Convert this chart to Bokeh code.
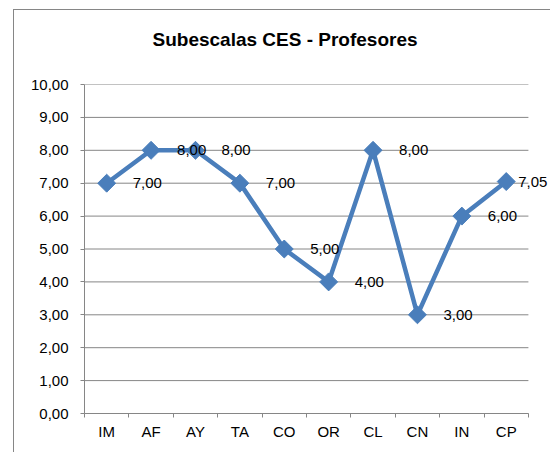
import math
from bokeh.plotting import figure
from bokeh.models import (Range1d, FixedTicker, CustomJSTickFormatter, ColumnDataSource, Title)
from bokeh.core.properties import value
from bokeh.embed import file_html
from bokeh.resources import INLINE

# ---- data ----
title = "Subescalas CES - Profesores"
categories = ["IM", "AF", "AY", "TA", "CO", "OR", "CL", "CN", "IN", "CP"]
values = [7.00, 8.00, 8.00, 7.00, 5.00, 4.00, 8.00, 3.00, 6.00, 7.05]
y_ticks = [0, 1, 2, 3, 4, 5, 6, 7, 8, 9, 10]

FONT = "Liberation Sans"
BLUE = "#4A7EBB"
GRAY = "#868686"

n = len(categories)
xpos = [i + 0.5 for i in range(n)]
labels = [f"{v:.2f}".replace(".", ",") for v in values]
label_dx = [26] * (n - 1) + [12]

p = figure(width=537, height=443, output_backend="svg", toolbar_location=None,
           title=None,
           x_range=Range1d(0, n * 1.052), y_range=Range1d(0, 10),
           min_border_left=70, min_border_right=0, min_border_top=74,
           min_border_bottom=40)
p.margin = (9, 0, 0, 13)
p.styles = {"border-left": f"1px solid {GRAY}", "border-top": f"1px solid {GRAY}"}
p.outline_line_color = None
p.background_fill_color = "white"
p.border_fill_color = "white"

# spacer between plot area and title, then the title itself
p.add_layout(Title(text=" ", text_font_size="1px", standoff=32), "above")
p.add_layout(Title(text=title, align="left", offset=68, standoff=0,
                   text_font=FONT, text_font_style="bold", text_font_size="19px",
                   text_color="black"), "above")

# grid lines (drawn only over the category span)
p.xgrid.visible = False
p.ygrid.visible = False
p.segment(x0=[0] * len(y_ticks), x1=[n] * len(y_ticks), y0=y_ticks, y1=y_ticks,
          line_color=GRAY, line_width=1)

# y axis
p.yaxis.ticker = FixedTicker(ticks=y_ticks)
p.yaxis.formatter = CustomJSTickFormatter(code="return tick.toFixed(2).replace('.', ',');")
p.yaxis.axis_line_color = GRAY
p.yaxis.major_tick_line_color = GRAY
p.yaxis.major_tick_out = 4
p.yaxis.major_tick_in = 0
p.yaxis.minor_tick_line_color = None
p.yaxis.major_label_standoff = 12
p.yaxis.major_label_text_font = FONT
p.yaxis.major_label_text_font_size = "15px"
p.yaxis.major_label_text_color = "black"

# x axis
p.xaxis.bounds = (0, n)
p.xaxis.ticker = FixedTicker(ticks=xpos, minor_ticks=list(range(n + 1)))
p.xaxis.formatter = CustomJSTickFormatter(args=dict(cats=categories),
                                          code="return cats[Math.floor(tick)];")
p.xaxis.axis_line_color = GRAY
p.xaxis.major_tick_line_color = None
p.xaxis.major_tick_out = 0
p.xaxis.major_tick_in = 0
p.xaxis.minor_tick_line_color = GRAY
p.xaxis.minor_tick_out = 4
p.xaxis.minor_tick_in = 0
p.xaxis.major_label_standoff = 5
p.xaxis.major_label_text_font = FONT
p.xaxis.major_label_text_font_size = "15px"
p.xaxis.major_label_text_color = "black"

src = ColumnDataSource(dict(x=xpos, y=values, label=labels, dx=label_dx))

p.line("x", "y", source=src, line_color=BLUE, line_width=4.5, line_join="miter")
p.scatter("x", "y", source=src, marker="square", size=12.7, angle=math.pi / 4,
          fill_color=BLUE, line_color=BLUE, line_width=1)
p.text("x", "y", text="label", source=src, x_offset="dx",
       text_font=value(FONT), text_font_size="15px", text_color="black",
       text_align="left", text_baseline="middle")

open("out.html", "w").write(file_html(p, INLINE))
